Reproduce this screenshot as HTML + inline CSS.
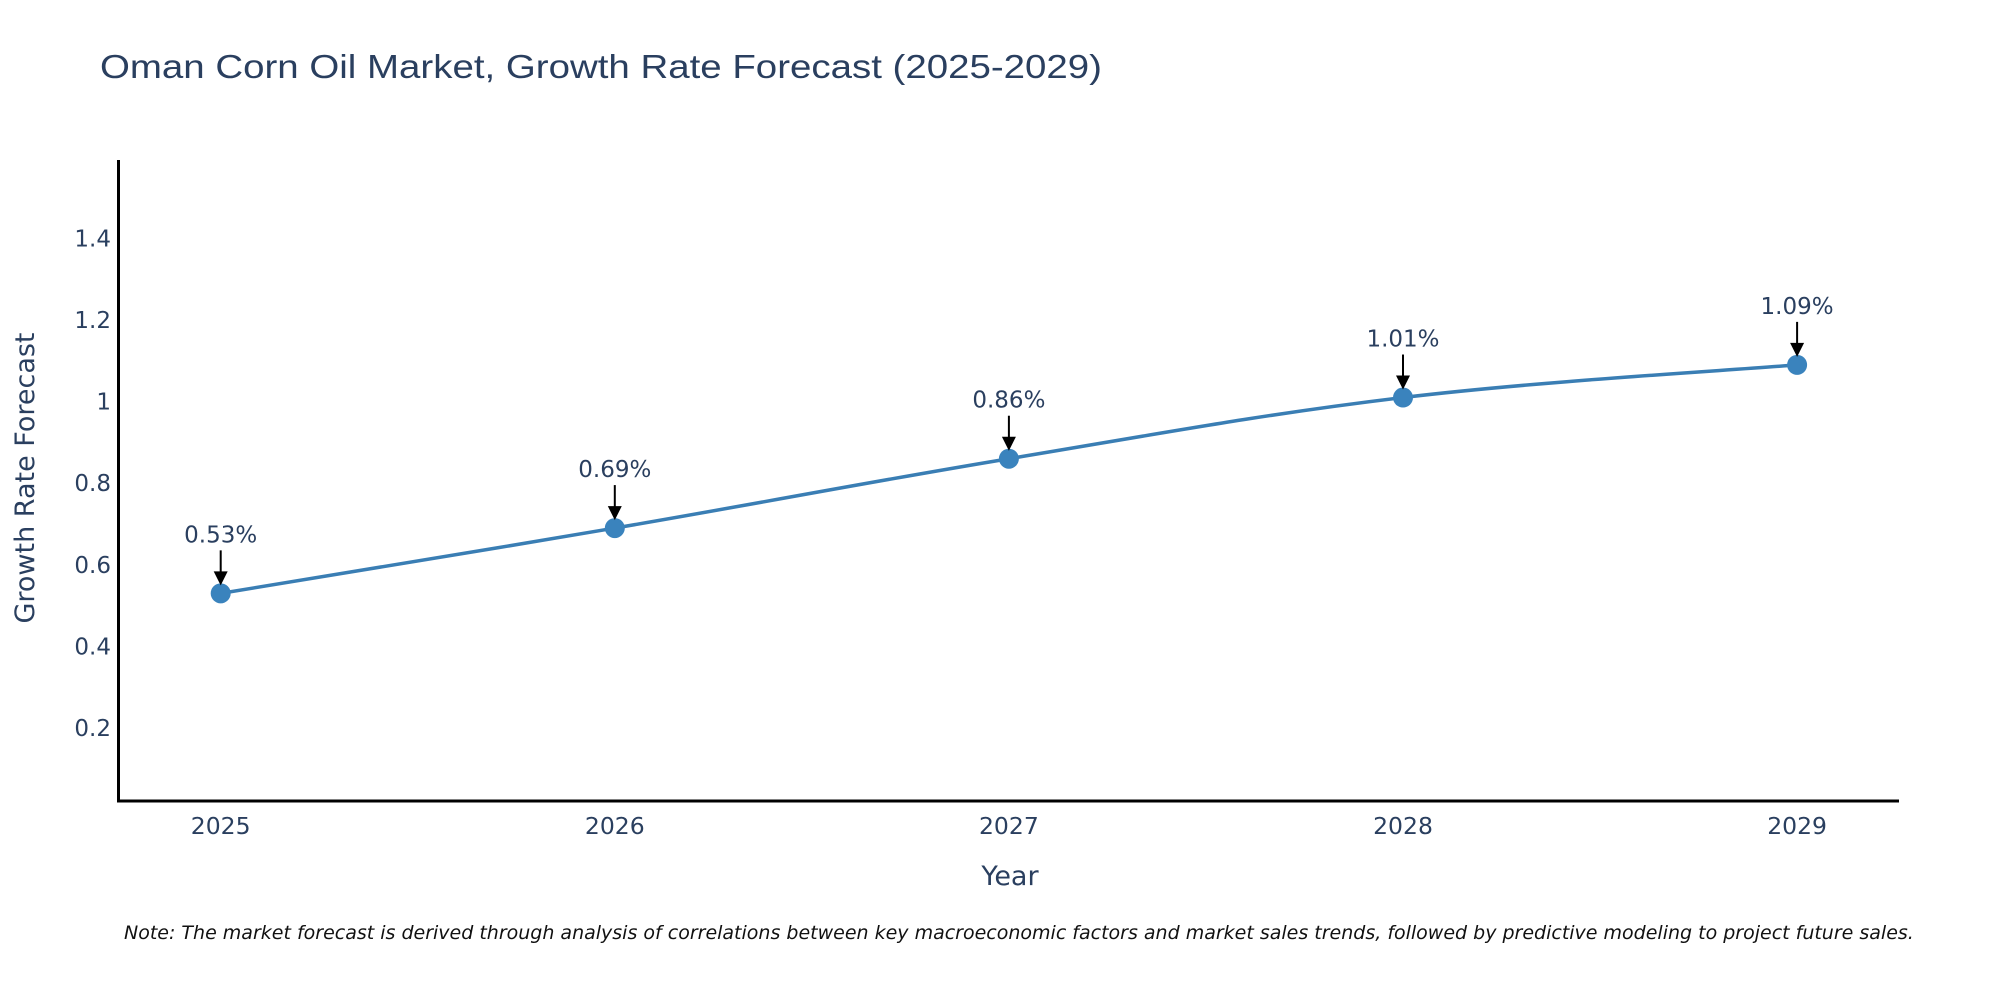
<!DOCTYPE html>
<html><head><meta charset="utf-8"><style>
body{margin:0;background:#fff;}
svg{display:block;font-family:"DejaVu Sans","Liberation Sans",sans-serif;}
</style></head><body>
<svg id="chart" width="2000" height="1000" viewBox="0 0 2000 1000">
<text x="100" y="78" font-size="33" fill="#2a3f5f" textLength="1002" lengthAdjust="spacingAndGlyphs" font-family="Liberation Sans, sans-serif">Oman Corn Oil Market, Growth Rate Forecast (2025-2029)</text>
<g id="plot"></g>
<line x1="118.5" y1="160" x2="118.5" y2="802" stroke="#000" stroke-width="3"/>
<line x1="117" y1="801" x2="1899" y2="801" stroke="#000" stroke-width="3"/>
<text x="1010" y="885" font-size="27" fill="#2a3f5f" text-anchor="middle">Year</text>
<text transform="translate(34,478) rotate(-90)" font-size="27" fill="#2a3f5f" text-anchor="middle">Growth Rate Forecast</text>
<text x="124" y="939" font-size="19" font-style="italic" fill="#111">Note: The market forecast is derived through analysis of correlations between key macroeconomic factors and market sales trends, followed by predictive modeling to project future sales.</text>
</svg>
<script>
const years=[2025,2026,2027,2028,2029];
const values=[0.53,0.69,0.86,1.01,1.09];
const labels=["0.53%","0.69%","0.86%","1.01%","1.09%"];
const yTicks=[0.2,0.4,0.6,0.8,1,1.2,1.4];
const yTickLabels=["0.2","0.4","0.6","0.8","1","1.2","1.4"];
const NS="http://www.w3.org/2000/svg";
const xs=y=>220.7+(y-2025)*394.1;
const ys=v=>728-(v-0.2)*408;
const g=document.getElementById('plot');
function mk(t,a){const e=document.createElementNS(NS,t);for(const k in a)e.setAttribute(k,a[k]);g.appendChild(e);return e;}
yTicks.forEach((v,i)=>{const t=mk('text',{x:111,y:ys(v)+8,'font-size':23,fill:'#2a3f5f','text-anchor':'end'});t.textContent=yTickLabels[i];

});
years.forEach(y=>{const t=mk('text',{x:xs(y),y:834,'font-size':23.5,fill:'#2a3f5f','text-anchor':'middle'});t.textContent=String(y);

});
const P=years.map((y,i)=>[xs(y),ys(values[i])]);
let d='M'+P[0][0]+','+P[0][1];
for(let i=0;i<P.length-1;i++){const p0=P[Math.max(0,i-1)],p1=P[i],p2=P[i+1],p3=P[Math.min(P.length-1,i+2)];const k=0.18;
d+=` C${p1[0]+(p2[0]-p0[0])*k},${p1[1]+(p2[1]-p0[1])*k} ${p2[0]-(p3[0]-p1[0])*k},${p2[1]-(p3[1]-p1[1])*k} ${p2[0]},${p2[1]}`;}
const line=mk('path',{d:d,fill:'none',stroke:'#3a7eb4','stroke-width':3.5});


P.forEach((p,i)=>{const c=mk('circle',{cx:p[0],cy:p[1],r:10,fill:'#3a83bd'});


const a=mk('line',{x1:p[0],y1:p[1]-43,x2:p[0],y2:p[1]-20,stroke:'#000','stroke-width':2});


const h=mk('path',{d:`M${p[0]-7},${p[1]-22} L${p[0]+7},${p[1]-22} L${p[0]},${p[1]-8} Z`,fill:'#000'});


const t=mk('text',{x:p[0],y:p[1]-51,'font-size':23,fill:'#2a3f5f','text-anchor':'middle'});t.textContent=labels[i];

});
</script>
</body></html>
